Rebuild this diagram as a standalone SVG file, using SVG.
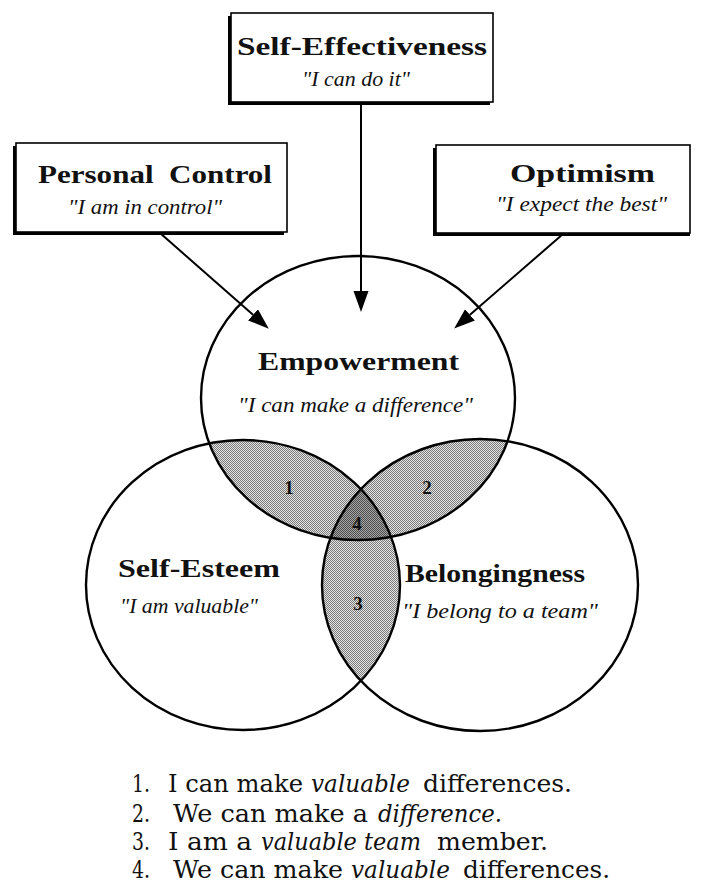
<svg xmlns="http://www.w3.org/2000/svg" width="703" height="886" viewBox="0 0 703 886">
<style>
  .box { fill: #fff; stroke: #000; stroke-width: 1.6; }
  .shadow { fill: #000; }
  .ring { fill: none; stroke: #000; stroke-width: 2.4; }
  .title { font-family: "Liberation Serif", "DejaVu Serif", serif; font-weight: bold; font-size: 26px; fill: #111; }
  .quote { font-family: "Liberation Serif", "DejaVu Serif", serif; font-style: italic; font-size: 20px; fill: #111; }
  .num { font-family: "Liberation Serif", "DejaVu Serif", serif; font-weight: bold; font-size: 19px; fill: #111; text-anchor: middle; }
  .li { font-family: "DejaVu Serif", "Liberation Serif", serif; font-size: 24px; fill: #111; }
  .it { font-style: italic; }
  .conn { stroke: #000; stroke-width: 2; fill: none; }
</style>
<defs>
  <pattern id="dots" width="2" height="2" patternUnits="userSpaceOnUse">
    <rect width="2" height="2" fill="#e4e4e4"/>
    <rect width="1" height="1" fill="#7a7a7a"/>
    <rect x="1" y="1" width="1" height="1" fill="#7a7a7a"/>
  </pattern>
  <pattern id="dots-dark" width="2" height="2" patternUnits="userSpaceOnUse">
    <rect width="2" height="2" fill="#a8a8a8"/>
    <rect width="1" height="1" fill="#4a4a4a"/>
    <rect x="1" y="1" width="1" height="1" fill="#4a4a4a"/>
  </pattern>
  <clipPath id="clip-top"><ellipse cx="358" cy="398" rx="157" ry="142"/></clipPath>
  <clipPath id="clip-left"><ellipse cx="243" cy="585" rx="157" ry="145"/></clipPath>
  <clipPath id="clip-right"><ellipse cx="480" cy="585" rx="158" ry="146"/></clipPath>
  <marker id="arrow" markerUnits="userSpaceOnUse" markerWidth="22" markerHeight="16" refX="0" refY="7.5" orient="auto">
    <path d="M0,0 L21,7.5 L0,15 z" fill="#000"/>
  </marker>
</defs>

<rect width="703" height="886" fill="#fff"/>

<!-- shaded overlap regions -->
<g id="overlaps">
  <g clip-path="url(#clip-top)"><ellipse cx="243" cy="585" rx="157" ry="145" fill="url(#dots)"/></g>
  <g clip-path="url(#clip-top)"><ellipse cx="480" cy="585" rx="158" ry="146" fill="url(#dots)"/></g>
  <g clip-path="url(#clip-left)"><ellipse cx="480" cy="585" rx="158" ry="146" fill="url(#dots)"/></g>
  <g clip-path="url(#clip-top)"><g clip-path="url(#clip-left)"><ellipse cx="480" cy="585" rx="158" ry="146" fill="url(#dots-dark)"/></g></g>
</g>

<!-- circles -->
<g id="node-empowerment">
  <ellipse class="ring" cx="358" cy="398" rx="157" ry="142"/>
  <text class="title" x="258" y="370" textLength="201" lengthAdjust="spacingAndGlyphs">Empowerment</text>
  <text class="quote" x="238" y="412" textLength="235" lengthAdjust="spacingAndGlyphs">"I can make a difference"</text>
</g>
<g id="node-self-esteem">
  <ellipse class="ring" cx="243" cy="585" rx="157" ry="145"/>
  <text class="title" x="118" y="577" textLength="162" lengthAdjust="spacingAndGlyphs">Self-Esteem</text>
  <text class="quote" x="120" y="613" textLength="138" lengthAdjust="spacingAndGlyphs">"I am valuable"</text>
</g>
<g id="node-belongingness">
  <ellipse class="ring" cx="480" cy="585" rx="158" ry="146"/>
  <text class="title" x="405" y="582" textLength="180" lengthAdjust="spacingAndGlyphs">Belongingness</text>
  <text class="quote" x="402" y="618" textLength="196" lengthAdjust="spacingAndGlyphs">"I belong to a team"</text>
</g>

<g id="region-numbers">
  <text class="num" x="289" y="494">1</text>
  <text class="num" x="427" y="494">2</text>
  <text class="num" x="358" y="610">3</text>
  <text class="num" x="357" y="530">4</text>
</g>

<!-- boxes -->
<g id="node-self-effectiveness">
  <rect class="shadow" x="228" y="16" width="262" height="89"/>
  <rect class="box" x="231" y="13" width="262" height="89"/>
  <text class="title" x="237" y="55" textLength="250" lengthAdjust="spacingAndGlyphs">Self-Effectiveness</text>
  <text class="quote" x="302" y="86" textLength="108" lengthAdjust="spacingAndGlyphs">"I can do it"</text>
</g>
<g id="node-personal-control">
  <rect class="shadow" x="13" y="146" width="271" height="89"/>
  <rect class="box" x="16" y="143" width="271" height="89"/>
  <text class="title" x="38" y="183" textLength="234" lengthAdjust="spacingAndGlyphs" xml:space="preserve">Personal  Control</text>
  <text class="quote" x="68" y="214" textLength="154" lengthAdjust="spacingAndGlyphs">"I am in control"</text>
</g>
<g id="node-optimism">
  <rect class="shadow" x="433" y="148" width="257" height="88"/>
  <rect class="box" x="436" y="145" width="254" height="88"/>
  <text class="title" x="510" y="182" textLength="145" lengthAdjust="spacingAndGlyphs">Optimism</text>
  <text class="quote" x="496" y="211" textLength="171" lengthAdjust="spacingAndGlyphs">"I expect the best"</text>
</g>

<!-- connectors -->
<g id="connectors">
  <line class="conn" x1="361" y1="103" x2="361" y2="291" marker-end="url(#arrow)"/>
  <line class="conn" x1="160" y1="233" x2="253" y2="314.8" marker-end="url(#arrow)"/>
  <line class="conn" x1="563" y1="234" x2="470" y2="314.8" marker-end="url(#arrow)"/>
</g>

<!-- legend -->
<g id="legend">
  <text class="li" x="132" y="792" textLength="18" lengthAdjust="spacingAndGlyphs">1.</text>
  <text class="li" x="168" y="792" textLength="135" lengthAdjust="spacingAndGlyphs">I can make</text>
  <text class="li it" x="311" y="792" textLength="99" lengthAdjust="spacingAndGlyphs">valuable</text>
  <text class="li" x="423" y="792" textLength="149" lengthAdjust="spacingAndGlyphs">differences.</text>

  <text class="li" x="132" y="822" textLength="18" lengthAdjust="spacingAndGlyphs">2.</text>
  <text class="li" x="173" y="822" textLength="195" lengthAdjust="spacingAndGlyphs">We can make a</text>
  <text class="li it" x="378" y="822" textLength="124" lengthAdjust="spacingAndGlyphs">difference.</text>

  <text class="li" x="132" y="850" textLength="18" lengthAdjust="spacingAndGlyphs">3.</text>
  <text class="li" x="168" y="850" textLength="84" lengthAdjust="spacingAndGlyphs">I am a</text>
  <text class="li it" x="261" y="850" textLength="160" lengthAdjust="spacingAndGlyphs">valuable team</text>
  <text class="li" x="437" y="850" textLength="111" lengthAdjust="spacingAndGlyphs">member.</text>

  <text class="li" x="132" y="878" textLength="18" lengthAdjust="spacingAndGlyphs">4.</text>
  <text class="li" x="173" y="878" textLength="170" lengthAdjust="spacingAndGlyphs">We can make</text>
  <text class="li it" x="351" y="878" textLength="99" lengthAdjust="spacingAndGlyphs">valuable</text>
  <text class="li" x="463" y="878" textLength="147" lengthAdjust="spacingAndGlyphs">differences.</text>
</g>
</svg>
